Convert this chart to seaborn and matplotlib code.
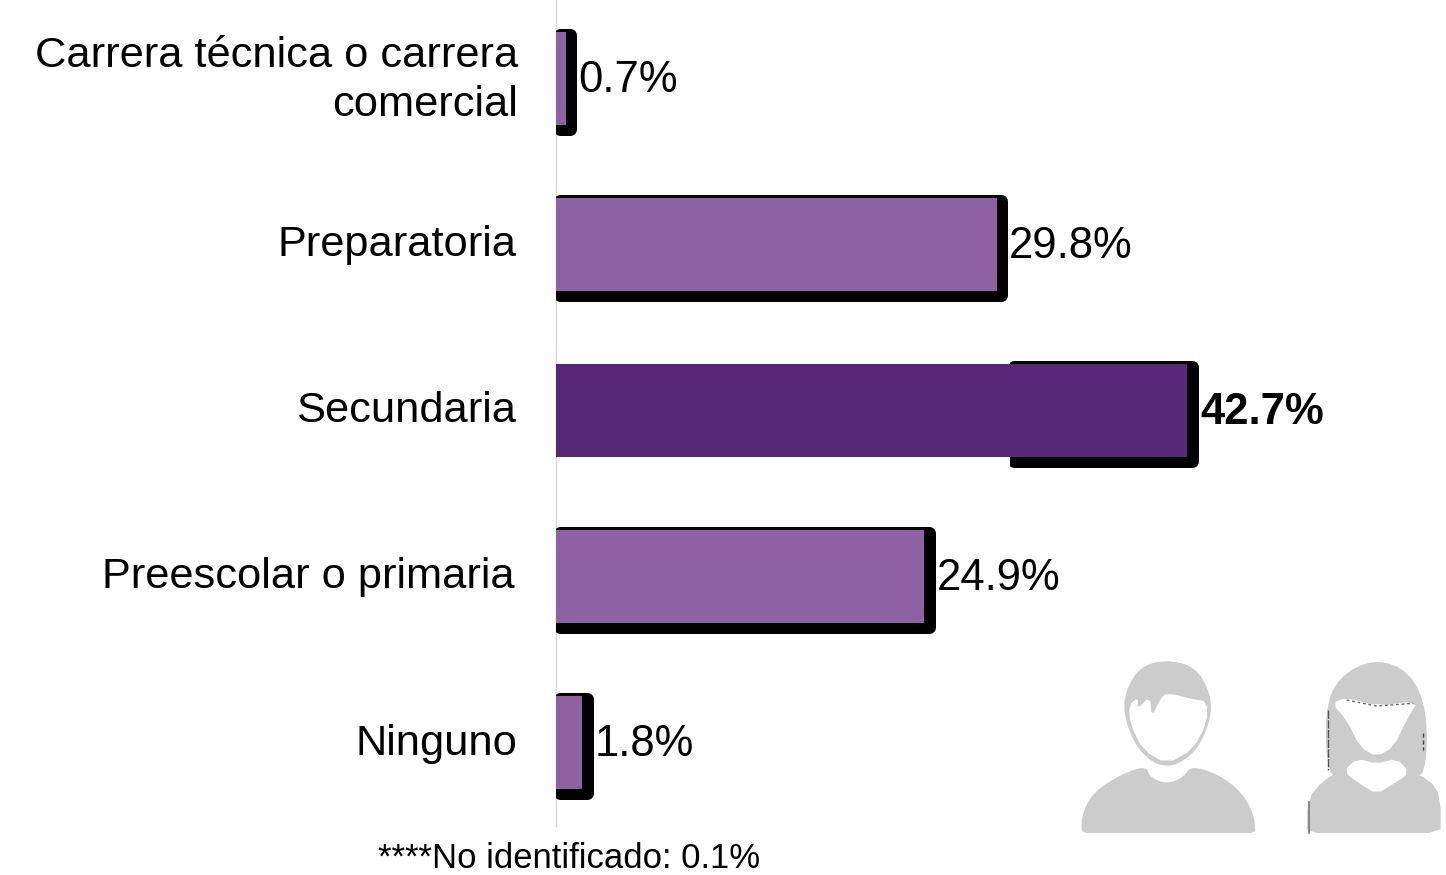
import numpy as np
import pandas as pd
import matplotlib
matplotlib.use("Agg")
import matplotlib.pyplot as plt
import matplotlib.patheffects as pe
from matplotlib.patches import Polygon, Rectangle
from matplotlib.transforms import ScaledTranslation
import seaborn as sns

categories = ["Carrera técnica o carrera\ncomercial", "Preparatoria", "Secundaria",
              "Preescolar o primaria", "Ninguno"]
values = [0.7, 29.8, 42.7, 24.9, 1.8]
value_labels = ["0.7%", "29.8%", "42.7%", "24.9%", "1.8%"]
palette = ["#8E61A2", "#8E61A2", "#582878", "#8E61A2", "#8E61A2"]
highlight = "Secundaria"
highlight_shadow_start = 30.7
footnote = "****No identificado: 0.1%"

sns.set_theme(style="white")
plt.rcParams["font.family"] = ["Liberation Sans", "DejaVu Sans"]

W, H, DPI = 1446, 875, 100
fig = plt.figure(figsize=(W / DPI, H / DPI), dpi=DPI, facecolor="white")
ax = fig.add_axes([555.5 / W, (H - 825.5) / H, (W - 555.5) / W, 830 / H])
ax.patch.set_alpha(0)

df = pd.DataFrame({"cat": categories, "val": values})
sns.barplot(data=df, x="val", y="cat", hue="cat", palette=palette, legend=False,
            width=0.566, saturation=1, ax=ax, zorder=3, linewidth=0)

ax.set_xlim(0, (W - 555.5) / 14.8)
ax.set_ylim(4.5, -0.5)
ax.set_xlabel("")
ax.set_ylabel("")
ax.set_xticks([])
sns.despine(ax=ax, left=False, bottom=True)
ax.spines["left"].set_color("#D9D9D9")
ax.spines["left"].set_linewidth(1.0)
ax.tick_params(axis="y", length=0, pad=28.5)

px = 72 / DPI
shadow = [pe.Stroke(linewidth=13 * px, foreground="black",
                    offset=(4.5 * px, -3.5 * px), joinstyle="round"),
          pe.Normal()]

for i, (cont, cat) in enumerate(zip(ax.containers, categories)):
    if cat == highlight:
        clip = Rectangle((highlight_shadow_start, i - 1), 40, 2, transform=ax.transData)
        b = ax.barh([i], [values[i] - highlight_shadow_start], left=highlight_shadow_start,
                    height=0.566, color="black", linewidth=0, zorder=2)
        for p in b:
            p.set_path_effects(shadow)
            p.set_clip_path(clip)
    else:
        for p in cont:
            p.set_path_effects(shadow)
    txt = ax.bar_label(cont, labels=[value_labels[i]], padding=12.5 * px,
                       fontsize=31.4, color="black", zorder=5,
                       fontweight="bold" if cat == highlight else "normal")
    for t in txt:
        xa, ya = t.xyann
        t.xyann = (xa, ya - 2.5 * px)

# category labels: small per-label nudges to sit as in the source slide
nudges = [(2, 7), (0.5, 4), (0.5, 4), (-1.5, 4), (1.5, 2.5)]
for lab, (dx, dy) in zip(ax.get_yticklabels(), nudges):
    lab.set_fontsize(31.2)
    lab.set_color("black")
    lab.set_linespacing(1.28)
    lab.set_transform(lab.get_transform() + ScaledTranslation(dx / DPI, dy / DPI, fig.dpi_scale_trans))

fig.text(378 / W, 1 - 859 / H, footnote, fontsize=24.9, color="black", va="center", ha="left")

# decorative person icons
ov = fig.add_axes([0, 0, 1, 1], zorder=10)
ov.set_xlim(0, W)
ov.set_ylim(H, 0)
ov.axis("off")
ov.patch.set_alpha(0)


def smooth(points, n=3):
    pts = np.asarray(points, float)
    for _ in range(n):
        nxt = np.roll(pts, -1, axis=0)
        pts = np.column_stack([0.75 * pts + 0.25 * nxt, 0.25 * pts + 0.75 * nxt]).reshape(-1, 2)
    return pts


def z(points):
    return [(1060 + x / 3, 640 + y / 3) for x, y in points]


GREY = "#CCCCCC"


def blob(points, color=GREY, n=3, **kw):
    ov.add_patch(Polygon(smooth(z(points), n) if n else z(points), closed=True,
                         facecolor=color, edgecolor="none", **kw))


# man
blob([(320, 58), (410, 82), (455, 170), (450, 250), (403, 343), (320, 388),
      (242, 343), (197, 250), (190, 170), (235, 82)])
blob([(320, 158), (400, 178), (442, 185), (440, 250), (398, 330), (320, 372),
      (248, 330), (210, 250), (207, 195), (235, 172), (232, 208), (270, 168), (275, 232), (300, 178)],
     "white", n=1)
blob([(68, 600), (62, 530), (100, 455), (190, 400), (258, 378), (270, 412), (320, 432),
      (370, 412), (392, 378), (470, 400), (545, 455), (585, 530), (585, 600)], n=2)
ov.add_patch(Rectangle((1060, 833), 190, 20, facecolor="white", edgecolor="none"))

# woman
blob([(802, 410), (795, 210), (835, 110), (945, 55), (1050, 95), (1102, 210), (1098, 410),
      (1040, 410), (860, 410)], n=2)
blob([(742, 600), (742, 480), (790, 420), (860, 385), (1040, 390), (1110, 420), (1142, 470), (1142, 600)], n=1)
blob([(815, 190), (860, 172), (950, 198), (1075, 182), (1040, 240), (1000, 322), (950, 350),
      (900, 322), (860, 240)], "white", n=1)
blob([(850, 395), (890, 355), (950, 372), (1010, 355), (1050, 398), (1000, 432), (950, 462), (900, 432)],
     "white", n=1)
ov.plot(*zip(*z([(803, 210), (803, 390)])), color="#555555", lw=1.0, ls=(0, (6, 1)))
ov.plot(*zip(*z([(746, 485), (746, 578)])), color="#888888", lw=1.5)
ov.plot(*zip(*z([(1090, 280), (1090, 330)])), color="#444444", lw=1.0, ls=(0, (3, 2)))
ov.plot(*zip(*z([(860, 180), (950, 198), (1060, 190)])), color="#666666", lw=1.0, ls=(0, (2, 2)))
ov.add_patch(Rectangle((1290, 833), 170, 20, facecolor="white", edgecolor="none"))

fig.savefig("out.png", dpi=DPI, facecolor="white")
